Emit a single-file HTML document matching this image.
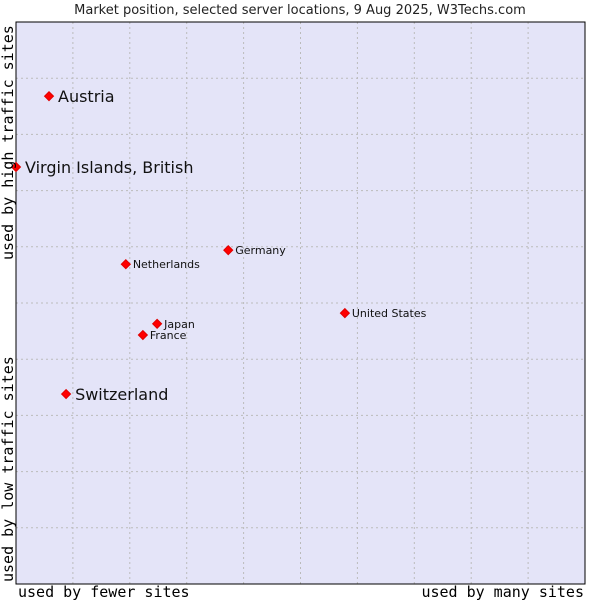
<!DOCTYPE html>
<html><head><meta charset="utf-8"><style>
html,body{margin:0;padding:0;background:#fff;width:600px;height:600px;overflow:hidden}
svg text{font-family:"DejaVu Sans","Liberation Sans",sans-serif}
</style></head><body>
<svg id="chart" width="600" height="600" xmlns="http://www.w3.org/2000/svg">
<text x="300" y="14" font-size="13" text-anchor="middle" fill="#222">Market position, selected server locations, 9 Aug 2025, W3Techs.com</text>
<rect x="16" y="22" width="569" height="562" fill="#e4e4f8" stroke="none"/>
<g id="grid"></g>
<rect x="16" y="22" width="569" height="562" fill="none" stroke="#000" stroke-width="1"/>
<g id="points"></g>
<text x="18" y="597" style="font-family:'DejaVu Sans Mono',monospace" font-size="15" fill="#000">used by fewer sites</text>
<text x="584" y="597" text-anchor="end" style="font-family:'DejaVu Sans Mono',monospace" font-size="15" fill="#000">used by many sites</text>
<text transform="translate(13,260) rotate(-90)" style="font-family:'DejaVu Sans Mono',monospace" font-size="15" fill="#000">used by high traffic sites</text>
<text transform="translate(13,582) rotate(-90)" style="font-family:'DejaVu Sans Mono',monospace" font-size="15" fill="#000">used by low traffic sites</text>
</svg>
<script>
const locations = ["Austria","Virgin Islands, British","Germany","Netherlands","United States","Japan","France","Switzerland"];
const siteShare = [5.8, 0, 37.3, 19.3, 57.8, 24.8, 22.3, 8.8];
const trafficScore = [86.8, 74.2, 59.4, 56.9, 48.2, 46.3, 44.3, 33.8];
const highlighted = [true, true, false, false, false, false, false, true];

const L=16,T=22,W=569,H=562;
const xs=v=>L+v/100*W;
const ys=v=>T+H-v/100*H;
const NS="http://www.w3.org/2000/svg";
const grid=document.getElementById('grid');
for(let i=1;i<10;i++){
  const gx=document.createElementNS(NS,'line');
  gx.setAttribute('x1',xs(i*10));gx.setAttribute('x2',xs(i*10));
  gx.setAttribute('y1',T);gx.setAttribute('y2',T+H);
  gx.setAttribute('stroke','#bbbbbb');gx.setAttribute('stroke-dasharray','2,3');
  
  
  grid.appendChild(gx);
  const gy=document.createElementNS(NS,'line');
  gy.setAttribute('y1',ys(i*10));gy.setAttribute('y2',ys(i*10));
  gy.setAttribute('x1',L);gy.setAttribute('x2',L+W);
  gy.setAttribute('stroke','#bbbbbb');gy.setAttribute('stroke-dasharray','2,3');
  
  
  grid.appendChild(gy);
}
const pts=document.getElementById('points');
locations.forEach((n,i)=>{
  const x=xs(siteShare[i]),y=ys(trafficScore[i]);
  const d=document.createElementNS(NS,'path');
  d.setAttribute('d',`M${x-4.5},${y} L${x},${y-4.5} L${x+4.5},${y} L${x},${y+4.5} Z`);
  d.setAttribute('fill','#ff0000');d.setAttribute('stroke','#e00000');d.setAttribute('stroke-width','1');
  
  
  pts.appendChild(d);
  const t=document.createElementNS(NS,'text');
  const big=highlighted[i];
  t.setAttribute('x',x+(big?9:7));
  t.setAttribute('y',y+(big?6:4));
  t.setAttribute('font-size',big?16:11);
  t.setAttribute('fill','#111');
  t.textContent=n;
  
  
  pts.appendChild(t);
});
</script>
</body></html>
